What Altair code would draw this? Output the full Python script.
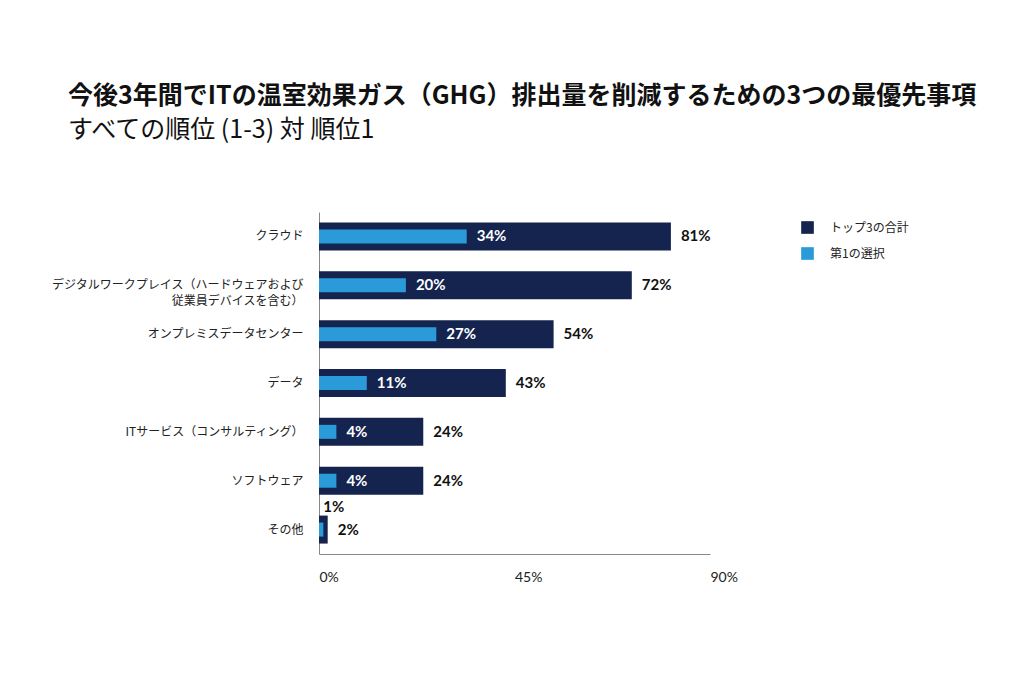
import altair as alt
import pandas as pd

categories = [
    "クラウド",
    "デジタルワークプレイス（ハードウェアおよび\n従業員デバイスを含む）",
    "オンプレミスデータセンター",
    "データ",
    "ITサービス（コンサルティング）",
    "ソフトウェア",
    "その他",
]
top3_total = [81, 72, 54, 43, 24, 24, 2]
first_choice = [34, 20, 27, 11, 4, 4, 1]

series_names = ["トップ3の合計", "第1の選択"]
colors = ["#14244F", "#2A9BD8"]

df = pd.DataFrame({"cat": categories, "total": top3_total, "first": first_choice})
df["total_label"] = df["total"].astype(str) + "%"
df["first_label"] = df["first"].astype(str) + "%"

W, H = 391, 342

color_scale = alt.Scale(domain=series_names, range=colors)
y_enc = alt.Y(
    "cat:N",
    sort=categories,
    title=None,
    axis=alt.Axis(
        labelExpr="split(datum.value, '\\n')",
        labelFontSize=12,
        labelFont="Noto Sans CJK JP",
        labelColor="#222222",
        labelLineHeight=16,
        labelPadding=16,
        ticks=False,
        domainColor="#888888",
        labelLimit=400,
    ),
)
x_scale = alt.Scale(domain=[0, 90], nice=False)
x_enc = alt.X(
    "total:Q",
    scale=x_scale,
    title=None,
    axis=alt.Axis(
        values=[0, 45, 90],
        labelExpr="datum.value + '%'",
        labelAlign="left",
        labelPadding=16,
        labelFontSize=14,
        labelFont="Lato",
        labelColor="#222222",
        ticks=False,
        grid=False,
        domainColor="#888888",
    ),
)

base = alt.Chart(df)

dark = base.mark_bar(size=28).encode(
    y=y_enc,
    x=x_enc,
    color=alt.Color(
        "s:N",
        scale=color_scale,
        legend=alt.Legend(
            title=None,
            orient="none",
            legendX=482,
            legendY=9,
            symbolType="square",
            symbolSize=160,
            symbolStrokeWidth=0,
            labelFontSize=12,
            labelFont="Noto Sans CJK JP",
            labelColor="#222222",
            rowPadding=13,
            labelOffset=16,
        ),
    ),
).transform_calculate(s="'トップ3の合計'")

light = base.mark_bar(size=14).encode(
    y=alt.Y("cat:N", sort=categories),
    x=alt.X("first:Q", scale=x_scale),
    color=alt.Color("s:N", scale=color_scale),
).transform_calculate(s="'第1の選択'")

total_text = base.mark_text(
    align="left", baseline="middle", dx=10, fontSize=15, fontWeight="bold", font="Lato", color="#111111"
).encode(
    y=alt.Y("cat:N", sort=categories),
    x=alt.X("total:Q", scale=x_scale),
    text="total_label:N",
)

first_text_in = base.mark_text(
    align="left", baseline="middle", dx=10, fontSize=15, fontWeight="bold", font="Lato", color="#ffffff"
).encode(
    y=alt.Y("cat:N", sort=categories),
    x=alt.X("first:Q", scale=x_scale),
    text="first_label:N",
).transform_filter("datum.total >= 5")

first_text_out = base.mark_text(
    align="left", baseline="middle", dx=0, dy=-23, fontSize=15, fontWeight="bold", font="Lato", color="#111111"
).encode(
    y=alt.Y("cat:N", sort=categories),
    x=alt.X("first:Q", scale=x_scale),
    text="first_label:N",
).transform_filter("datum.total < 5")

chart = alt.layer(dark, light, total_text, first_text_in, first_text_out).properties(
    width=W,
    height=H,
    background="white",
    autosize=alt.AutoSizeParams(type="none"),
    padding={"left": 319, "top": 212, "right": 1024 - 319 - W, "bottom": 686 - 212 - H},
    title=alt.TitleParams(
        text="今後3年間でITの温室効果ガス（GHG）排出量を削減するための3つの最優先事項",
        subtitle="すべての順位 (1-3) 対 順位1",
        anchor="start",
        frame="group",
        dx=-251,
        offset=69,
        font="Noto Sans CJK JP",
        fontSize=25,
        fontWeight="bold",
        color="#111111",
        subtitleFont="Noto Sans CJK JP",
        subtitleFontSize=25,
        subtitleColor="#111111",
        subtitlePadding=9,
    ),
).configure_view(strokeWidth=0, stroke="transparent")

chart.save("out.html", embed_options={"renderer": "svg", "actions": False})
